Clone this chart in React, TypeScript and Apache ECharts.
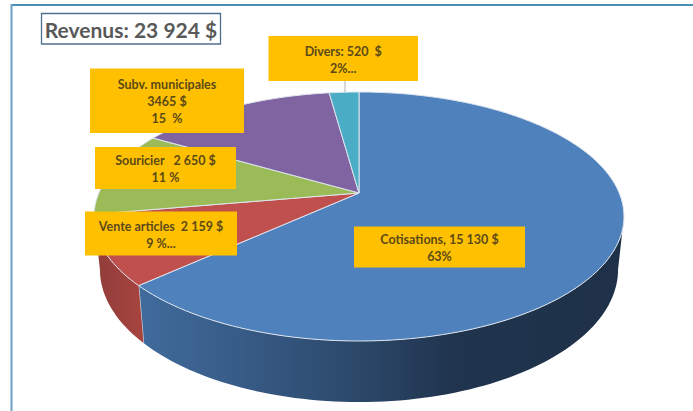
import React, { useEffect, useRef } from "react";
import * as echarts from "echarts";

const titleText = "Revenus: 23 924 $";
const categories = ["Cotisations", "Vente articles", "Souricier", "Subv. municipales", "Divers"];
const revenues = [15130, 2159, 2650, 3465, 520];
const labelTexts = [
  "Cotisations, 15 130 $\n63%",
  "Vente articles  2 159 $\n9 %...",
  "Souricier   2 650 $\n11 %",
  "Subv. municipales\n3465 $\n15  %",
  "Divers: 520  $\n2%...",
];
const sliceColors = ["#4f81bd", "#c0504d", "#9bbb59", "#8064a2", "#4bacc6"];

const labelBoxes = [
  [354, 226.5, 171, 41],
  [85, 211.5, 152, 44],
  [95, 147, 141, 42],
  [90, 68.5, 154, 64.5],
  [268.5, 36, 149.5, 45],
];

// Perspective projection of the pie disc: top plane and bottom plane of the drum
const CX = 359;
const PERSP = -0.1888;
const TOP = { y0: 193, kx: 260.2, ky: 120.06 };
const BOTTOM = { y0: 244.5, kx: 254.4, ky: 127.8 };
const WALL_FROM = 100.9;
const WALL_TO = 259.1;

function project(deg: number, plane: { y0: number; kx: number; ky: number }) {
  const r = (deg * Math.PI) / 180;
  const sx = Math.sin(r);
  const sy = -Math.cos(r);
  const d = 1 + PERSP * sy;
  return [CX + (plane.kx * sx) / d, plane.y0 + (plane.ky * sy) / d];
}

function sweep(from: number, to: number, plane: { y0: number; kx: number; ky: number }) {
  const n = Math.max(2, Math.ceil((to - from) / 1.5));
  const pts: number[][] = [];
  for (let i = 0; i <= n; i++) pts.push(project(from + ((to - from) * i) / n, plane));
  return pts;
}

const total = revenues.reduce((a, b) => a + b, 0);
function angles(i: number) {
  const start = revenues.slice(0, i).reduce((a, b) => a + b, 0);
  return [(start / total) * 360, ((start + revenues[i]) / total) * 360];
}

const wallFills: any = [
  new echarts.graphic.LinearGradient(0, 0, 1, 0, [
    { offset: 0, color: "#406b9b" },
    { offset: 0.2, color: "#385c88" },
    { offset: 0.45, color: "#2b4869" },
    { offset: 0.65, color: "#20344e" },
    { offset: 1, color: "#1e3148" },
  ]),
  new echarts.graphic.LinearGradient(0, 0, 1, 0, [
    { offset: 0, color: "#8f3c39" },
    { offset: 1, color: "#a8443f" },
  ]),
];

export default function App() {
  const ref = useRef<HTMLDivElement>(null);
  useEffect(() => {
    const chart = echarts.init(ref.current!, null, { renderer: "svg" });
    chart.setOption({
      animation: false,
      backgroundColor: "#ffffff",
      graphic: [
        { type: "line", z: 20, shape: { x1: 11, y1: 5, x2: 693, y2: 5 }, style: { stroke: "#4a90b4", lineWidth: 2 } },
        { type: "line", z: 20, shape: { x1: 11.5, y1: 4, x2: 11.5, y2: 411 }, style: { stroke: "#6f9fc8", lineWidth: 2 } },
        { type: "rect", z: 20, shape: { x: 41.5, y: 13.5, width: 179, height: 30.5 }, style: { fill: "#ffffff", stroke: "#4f6f8f", lineWidth: 1.3 } },
        {
          type: "text", z: 21, x: 131, y: 29.5,
          style: { text: titleText, fill: "#595959", font: 'bold 21px Lato', align: "center", verticalAlign: "middle" },
        },
        { type: "line", z: 20, shape: { x1: 345, y1: 81, x2: 345, y2: 92 }, style: { stroke: "#bdbdbd", lineWidth: 1.2 } },
      ],
      series: [
        {
          type: "custom",
          name: "walls",
          coordinateSystem: "none",
          z: 2,
          data: revenues,
          renderItem: (p: any) => {
            const [a0, a1] = angles(p.dataIndex);
            const from = Math.max(a0, WALL_FROM);
            const to = Math.min(a1, WALL_TO);
            if (to <= from || p.dataIndex > 1) return { type: "group", children: [] };
            const points = [...sweep(from, to, TOP), ...sweep(from, to, BOTTOM).reverse()];
            const children: any[] = [
              { type: "polygon", shape: { points }, style: { fill: wallFills[p.dataIndex], stroke: "none" } },
            ];
            if (a1 < WALL_TO) {
              const t = project(a1, TOP);
              const b = project(a1, BOTTOM);
              children.push({
                type: "line",
                shape: { x1: t[0], y1: t[1], x2: b[0], y2: b[1] },
                style: { stroke: "#d5dce6", lineWidth: 1.2 },
              });
            }
            return { type: "group", children };
          },
        },
        {
          type: "custom",
          name: "top",
          coordinateSystem: "none",
          z: 3,
          data: revenues,
          renderItem: (p: any) => {
            const [a0, a1] = angles(p.dataIndex);
            const points = [[CX, TOP.y0], ...sweep(a0, a1, TOP)];
            return {
              type: "polygon",
              shape: { points },
              style: { fill: sliceColors[p.dataIndex], stroke: "#dde5ee", lineWidth: 1, lineJoin: "round" },
            };
          },
        },
        {
          type: "custom",
          name: "labels",
          coordinateSystem: "none",
          z: 5,
          data: categories,
          renderItem: (p: any) => {
            const [x, y, w, h] = labelBoxes[p.dataIndex];
            return {
              type: "group",
              children: [
                { type: "rect", shape: { x, y, width: w, height: h }, style: { fill: "#ffc000" } },
                {
                  type: "text",
                  x: x + w / 2,
                  y: y + h / 2 + 1,
                  style: {
                    text: labelTexts[p.dataIndex],
                    fill: "#5c4a17",
                    font: 'bold 12.5px Lato',
                    lineHeight: 17,
                    align: "center",
                    verticalAlign: "middle",
                  },
                },
              ],
            };
          },
        },
      ],
    });
    return () => chart.dispose();
  }, []);
  return <div ref={ref} style={{ position: "absolute", left: 0, top: 0, width: 693, height: 411 }} />;
}
